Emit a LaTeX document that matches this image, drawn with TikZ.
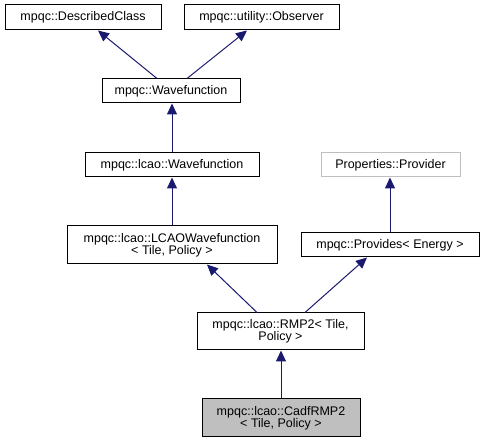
\documentclass[tikz,border=0pt]{standalone}
\usepackage{fontspec}
\setmainfont{Liberation Sans}
\usetikzlibrary{arrows.meta}
\definecolor{edgeblue}{HTML}{191970}
\definecolor{boxgray}{HTML}{BFBFBF}
\definecolor{lightborder}{HTML}{BFBFBF}
\tikzset{
  cls/.style={draw=black, line width=1pt, fill=white, inner sep=0pt, align=center,
    font=\fontsize{12.5}{12.3}\selectfont},
  inh/.style={draw=edgeblue, line width=1pt, -{Triangle[length=11pt,width=10pt,fill=edgeblue]}},
}
\begin{document}
\begin{tikzpicture}[x=1pt,y=-1pt]
\useasboundingbox (0,0) rectangle (485,443);
\node[cls, minimum width=156pt, minimum height=25pt] (dc) at (83,17.5) {mpqc::DescribedClass};
\node[cls, minimum width=155pt, minimum height=25pt] (ob) at (261.5,17.5) {mpqc::utility::Observer};
\node[cls, minimum width=138pt, minimum height=24pt] (wf) at (171,91) {mpqc::Wavefunction};
\node[cls, minimum width=174pt, minimum height=24pt] (lw) at (172,165) {mpqc::lcao::Wavefunction};
\node[cls, draw=lightborder, minimum width=139pt, minimum height=24pt] (pp) at (390.5,165) {Properties::Provider};
\node[cls, minimum width=210pt, minimum height=38pt] (lc) at (172,245) {mpqc::lcao::LCAOWavefunction\\{}< Tile, Policy >};
\node[cls, minimum width=178pt, minimum height=24pt] (pe) at (390,245) {mpqc::Provides< Energy >};
\node[cls, minimum width=167pt, minimum height=37pt] (rm) at (280.5,331.5) {mpqc::lcao::RMP2< Tile,\\Policy >};
\node[cls, fill=boxgray, minimum width=158pt, minimum height=38pt] (cd) at (281,418) {mpqc::lcao::CadfRMP2\\{}< Tile, Policy >};
\draw[inh] ([xshift=-14pt]wf.north) -- ([xshift=15pt]dc.south);
\draw[inh] ([xshift=16pt]wf.north) -- ([xshift=-14.5pt]ob.south);
\draw[inh] (lw.north) -- (lw.north |- wf.south);
\draw[inh] (lc.north) -- (lc.north |- lw.south);
\draw[inh] (pe.north) -- (pe.north |- pp.south);
\draw[inh] ([xshift=-23.5pt]rm.north) -- ([xshift=35pt]lc.south);
\draw[inh] ([xshift=24.5pt]rm.north) -- ([xshift=-23pt]pe.south);
\draw[inh] (cd.north) -- (cd.north |- rm.south);
\end{tikzpicture}
\end{document}
